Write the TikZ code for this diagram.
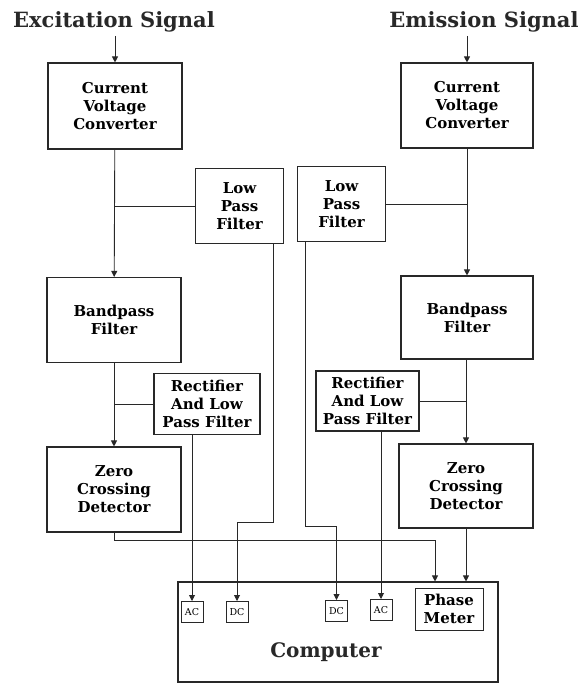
\documentclass[tikz,border=0pt]{standalone}
\usepackage{fontspec}
\setmainfont{DejaVu Serif}
\usepackage{tikz}
\usetikzlibrary{arrows.meta, positioning, calc}
\definecolor{mydark}{RGB}{40,40,40}
\tikzset{
  blk/.style={rectangle, draw=mydark, align=center, line width=1.1pt,
    font=\bfseries\fontsize{15}{18}\selectfont},
  arrow/.style={-{Triangle[width=6pt, length=6pt]}, line width=0.9pt, color=mydark},
  line/.style={line width=0.9pt, color=mydark}
}

\begin{document}
\begin{tikzpicture}[x=1pt, y=-1pt,
  conv/.style={blk, minimum width=134pt, minimum height=86pt},
  lpf/.style={blk, minimum width=88pt, minimum height=75pt},
  rect/.style={blk, minimum width=106pt, minimum height=61pt, inner sep=1pt},
  io/.style={rectangle, draw=mydark, line width=1pt, minimum width=22pt, minimum height=21pt,
    inner sep=0pt, font=\fontsize{9.5}{10}\selectfont},
  title/.style={font=\bfseries\fontsize{21}{24}\selectfont, text=mydark}
]
\useasboundingbox (0,0) rectangle (586,684);

%--- EXCITATION column ---
\node[title] (exlbl) at (114, 22) {Excitation Signal};
\node[conv] (cvc1)  at (115, 106)   {Current\\Voltage\\Converter};
\node[lpf]  (lpf1)  at (239.5, 206) {Low\\Pass\\Filter};
\node[conv, minimum height=85pt] (bp1)  at (114, 320)   {Bandpass\\Filter};
\node[rect] (rect1) at (207, 404)   {Rectifier\\And Low\\Pass Filter};
\node[conv, minimum height=85pt] (zcd1) at (114, 489.5) {Zero\\Crossing\\Detector};
\draw[arrow] (exlbl.south -| cvc1) -- (cvc1.north);
\draw[arrow] (cvc1) -- (bp1);
\draw[line] (lpf1.west) -- (lpf1.west -| cvc1);
\draw[arrow] (bp1) -- (zcd1);
\draw[line] (rect1.west) -- (rect1.west -| bp1);

%--- EMISSION column ---
\node[title] (emlbl) at (484, 22) {Emission Signal};
\node[conv, minimum width=132pt, minimum height=85pt] (cvc2) at (467, 105.5) {Current\\Voltage\\Converter};
\node[lpf]  (lpf2)  at (341.5, 204) {Low\\Pass\\Filter};
\node[conv, minimum width=132pt, minimum height=83pt] (bp2) at (467, 317.5) {Bandpass\\Filter};
\node[rect, minimum width=103pt, minimum height=60pt] (rect2) at (367.5, 401) {Rectifier\\And Low\\Pass Filter};
\node[conv, minimum height=84pt] (zcd2) at (466, 486) {Zero\\Crossing\\Detector};
\draw[arrow] (emlbl.south -| cvc2) -- (cvc2.north);
\draw[arrow] (cvc2) -- (bp2);
\draw[line] (lpf2.east) -- (lpf2.east -| cvc2);
\draw[arrow] (bp2.south -| zcd2) -- (zcd2.north);
\draw[line] (rect2.east) -- (rect2.east -| zcd2);

%--- COMPUTER ---
\node[rectangle, draw=mydark, line width=1.1pt, minimum width=320pt, minimum height=100pt] (comp) at (338, 632) {};
\node[font=\bfseries\fontsize{20}{24}\selectfont, text=mydark] (ctxt) at (326, 652) {Computer};
\node[io] (ac1) at (192, 612)   {AC};
\node[io] (dc1) at (237, 612)   {DC};
\node[io] (dc2) at (336.5, 611) {DC};
\node[io] (ac2) at (381, 610)   {AC};
\node[blk, line width=1pt, minimum width=68pt, minimum height=42pt, inner sep=1pt] (phase) at (449, 609) {Phase\\Meter};
\coordinate (pm1) at ([xshift=-14pt]phase.north);

%--- signal lines into computer ---
\draw[arrow] ([xshift=-11pt]lpf1.south east) -- ++(0,278) -| (dc1.north);
\draw[arrow] (rect1.south -| ac1) -- (ac1.north);
\draw[arrow] ([xshift=8pt]lpf2.south west) -- ++(0,284) -| (dc2.north);
\draw[arrow] (rect2.south -| ac2) -- (ac2.north);
\draw[arrow] (zcd1.south) -- ++(0,8) -| (pm1 |- comp.north);
\draw[arrow] (zcd2.south) -- (zcd2.south |- comp.north);
\end{tikzpicture}
\end{document}
